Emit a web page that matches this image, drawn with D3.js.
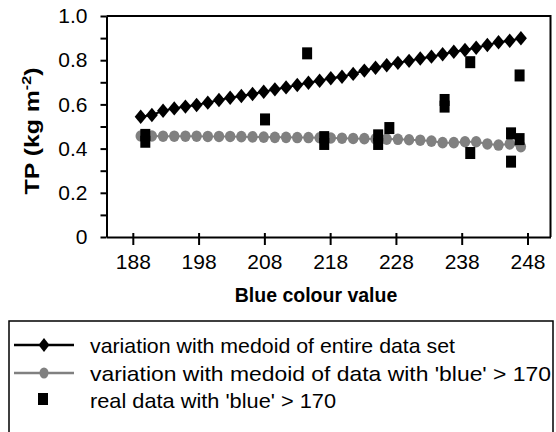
<!DOCTYPE html>
<html>
<head>
<meta charset="utf-8">
<script src="https://cdn.jsdelivr.net/npm/d3@7"></script>
<style>
  body { margin: 0; background: #fff; }
  text { font-family: Arial, "Liberation Sans", sans-serif; fill: #000; }
</style>
</head>
<body>
<div id="chart"></div>
<script>
// blue colour values of the medoid curves
var blueValues = [189.2, 190.9, 192.6, 194.3, 196.0, 197.7, 199.4, 201.1, 202.8, 204.5,
                  206.2, 207.9, 209.6, 211.3, 213.0, 214.7, 216.4, 218.1, 219.8, 221.5,
                  223.2, 224.9, 226.6, 228.3, 230.0, 231.7, 233.4, 235.1, 236.8, 238.5,
                  240.2, 241.9, 243.6, 245.3, 247.0];
// TP for medoid of entire data set
var tpEntire = [0.544, 0.552, 0.571, 0.582, 0.590, 0.597, 0.608, 0.620, 0.630, 0.638,
                0.647, 0.657, 0.668, 0.677, 0.688, 0.698, 0.707, 0.718, 0.725, 0.738,
                0.753, 0.766, 0.777, 0.788, 0.797, 0.808, 0.816, 0.827, 0.838, 0.846,
                0.856, 0.869, 0.881, 0.888, 0.899];
// TP for medoid of data with blue > 170
var tpBlue170 = [0.457, 0.457, 0.456, 0.456, 0.456, 0.456, 0.455, 0.455, 0.455, 0.454,
                 0.453, 0.452, 0.451, 0.451, 0.450, 0.450, 0.449, 0.448, 0.447, 0.446,
                 0.445, 0.444, 0.443, 0.442, 0.440, 0.438, 0.434, 0.427, 0.427, 0.431,
                 0.431, 0.421, 0.416, 0.421, 0.409];
// real observations
var realBlue = [189.9, 189.9, 208.1, 214.5, 217.1, 217.1, 225.3, 225.3, 227.0,
                235.4, 235.4, 239.3, 239.3, 245.5, 245.5, 246.8, 246.8];
var realTP = [0.462, 0.431, 0.532, 0.831, 0.452, 0.421, 0.460, 0.421, 0.493,
              0.620, 0.590, 0.791, 0.380, 0.469, 0.341, 0.731, 0.443];

var xTicks = [188, 198, 208, 218, 228, 238, 248];
var yTicks = [0, 0.1, 0.2, 0.3, 0.4, 0.5, 0.6, 0.7, 0.8, 0.9, 1.0];
var legendLabels = ["variation with medoid of entire data set",
                    "variation with medoid of data with 'blue' > 170",
                    "real data with 'blue' > 170"];

var svgWidth = 556, svgHeight = 432;
var margin = {top: 16, right: 5.5, bottom: 195, left: 106.5};
var width = svgWidth - margin.left - margin.right;
var height = svgHeight - margin.top - margin.bottom;

var svg = d3.select("#chart").append("svg")
    .attr("width", svgWidth)
    .attr("height", svgHeight);

var g = svg.append("g")
    .attr("transform", `translate(${margin.left},${margin.top})`);

var x = d3.scaleLinear().domain([184, 251.5]).range([0, width]);
var y = d3.scaleLinear().domain([0, 1]).range([height, 0]);

// frame: top and right
g.append("path")
    .attr("d", `M0,0H${width}V${height}`)
    .attr("fill", "none")
    .attr("stroke", "#000")
    .attr("stroke-width", 2);

// x axis
var xAxis = g.append("g")
    .attr("transform", `translate(0,${height})`)
    .call(d3.axisBottom(x).tickValues(xTicks).tickSize(8).tickPadding(9).tickSizeOuter(0));
xAxis.select(".domain").attr("stroke-width", 2);
xAxis.selectAll(".tick line").attr("y1", -4).attr("y2", 8).attr("stroke-width", 2);
xAxis.selectAll(".tick text").attr("font-size", 21).attr("font-family", "Arial, 'Liberation Sans', sans-serif");

// y axis
var yAxis = g.append("g")
    .call(d3.axisLeft(y).tickValues(yTicks).tickSize(6).tickPadding(13).tickSizeOuter(0)
        .tickFormat(function(d, i) {
            if (i % 2 !== 0) return "";
            return d === 0 ? "0" : d3.format(".1f")(d);
        }));
yAxis.select(".domain").attr("stroke-width", 2);
yAxis.selectAll(".tick line").attr("stroke-width", 2);
yAxis.selectAll(".tick text").attr("font-size", 21).attr("font-family", "Arial, 'Liberation Sans', sans-serif");

// axis titles
svg.append("text")
    .attr("x", 316).attr("y", 302)
    .attr("text-anchor", "middle")
    .attr("font-size", 19.5).attr("font-weight", "bold")
    .text("Blue colour value");

var yTitle = svg.append("text")
    .attr("transform", "translate(39,131) rotate(-90) scale(1.24,1)")
    .attr("text-anchor", "middle")
    .attr("font-size", 20).attr("font-weight", "bold");
yTitle.append("tspan").text("TP (kg m");
yTitle.append("tspan").attr("font-size", 13).attr("dy", -8).text("-2");
yTitle.append("tspan").attr("dy", 8).text(")");

// marker helpers
function diamond(w, h) {
    return `M0,${-h}L${w},0L0,${h}L${-w},0Z`;
}

var line = d3.line()
    .x(function(d) { return x(d[0]); })
    .y(function(d) { return y(d[1]); });

var entireData = blueValues.map(function(b, i) { return [b, tpEntire[i]]; });
var blueData = blueValues.map(function(b, i) { return [b, tpBlue170[i]]; });
var realData = realBlue.map(function(b, i) { return [b, realTP[i]]; });

// series 1: black diamonds
g.append("path").datum(entireData)
    .attr("d", line).attr("fill", "none")
    .attr("stroke", "#000").attr("stroke-width", 2);
g.selectAll(".dia").data(entireData).enter().append("path")
    .attr("class", "dia")
    .attr("transform", function(d) { return `translate(${x(d[0])},${y(d[1])})`; })
    .attr("d", diamond(6, 7.2))
    .attr("fill", "#000");

// series 2: grey circles
g.append("path").datum(blueData)
    .attr("d", line).attr("fill", "none")
    .attr("stroke", "#808080").attr("stroke-width", 2);
g.selectAll(".dot").data(blueData).enter().append("ellipse")
    .attr("class", "dot")
    .attr("cx", function(d) { return x(d[0]); })
    .attr("cy", function(d) { return y(d[1]); })
    .attr("rx", 5.2).attr("ry", 5.8)
    .attr("fill", "#808080");

// series 3: real data squares
g.selectAll(".sq").data(realData).enter().append("rect")
    .attr("class", "sq")
    .attr("x", function(d) { return x(d[0]) - 5; })
    .attr("y", function(d) { return y(d[1]) - 6; })
    .attr("width", 10).attr("height", 12)
    .attr("fill", "#000");

// legend
var legend = svg.append("g");
legend.append("path")
    .attr("d", "M9,440V321H553V440")
    .attr("fill", "none").attr("stroke", "#000").attr("stroke-width", 1.5);

var rowY = [345, 373, 400];
var rowLen = [365, 461, 246];
var lg1 = legend.append("g").attr("transform", `translate(0,${rowY[0]})`);
lg1.append("line").attr("x1", 14).attr("x2", 74).attr("stroke", "#000").attr("stroke-width", 2.5);
lg1.append("path").attr("transform", "translate(44,0)").attr("d", diamond(5.5, 7)).attr("fill", "#000");

var lg2 = legend.append("g").attr("transform", `translate(0,${rowY[1]})`);
lg2.append("line").attr("x1", 14).attr("x2", 74).attr("stroke", "#808080").attr("stroke-width", 2.5);
lg2.append("ellipse").attr("cx", 44).attr("rx", 4.5).attr("ry", 5.5).attr("fill", "#808080");

var lg3 = legend.append("g").attr("transform", `translate(0,${rowY[2]})`);
lg3.append("rect").attr("x", 38).attr("y", -7).attr("width", 10).attr("height", 12).attr("fill", "#000");

legend.selectAll(".lt").data(legendLabels).enter().append("text")
    .attr("class", "lt")
    .attr("x", 90)
    .attr("y", function(d, i) { return rowY[i]; })
    .attr("dy", "0.36em")
    .attr("font-size", 21)
    .attr("textLength", function(d, i) { return rowLen[i]; })
    .attr("lengthAdjust", "spacingAndGlyphs")
    .text(function(d) { return d; });
</script>
</body>
</html>
